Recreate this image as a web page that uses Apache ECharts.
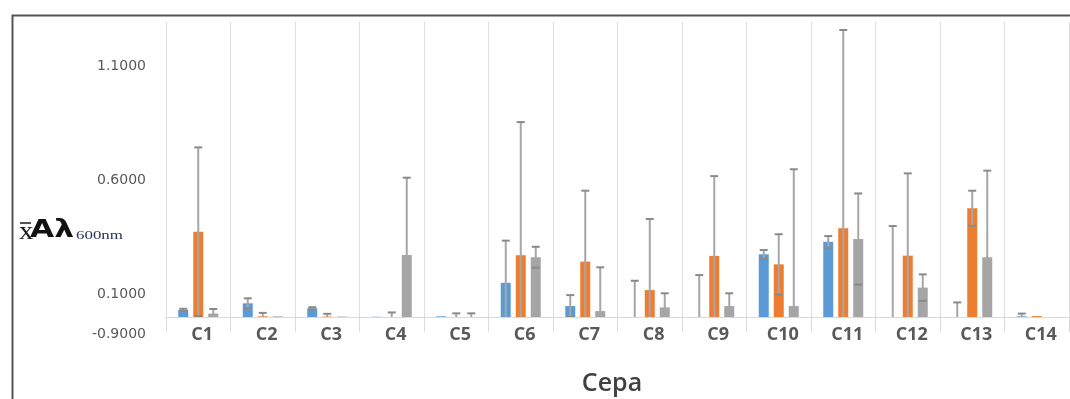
<!DOCTYPE html>
<html>
<head>
<meta charset="utf-8">
<script src="https://cdn.jsdelivr.net/npm/echarts@6/dist/echarts.min.js"></script>
<style>html,body{margin:0;padding:0;background:#fff}#c{width:1070px;height:399px}</style>
</head>
<body>
<div id="c"></div>
<script>
var categories = ['C1','C2','C3','C4','C5','C6','C7','C8','C9','C10','C11','C12','C13','C14'];
var blueValues   = [0.031, 0.060, 0.038, 0.001, 0.003, 0.150, 0.048, 0.000, 0.000, 0.275, 0.330, 0.000, 0.000, 0.003];
var blueErrors   = [0.005, 0.022, 0.005, 0.000, 0.000, 0.185, 0.048, 0.159, 0.184, 0.019, 0.025, 0.399, 0.064, 0.012];
var orangeValues = [0.374, 0.003, 0.002, 0.000, 0.000, 0.271, 0.243, 0.118, 0.268, 0.231, 0.389, 0.269, 0.477, 0.004];
var orangeErrors = [0.370, 0.015, 0.012, 0.020, 0.016, 0.584, 0.311, 0.312, 0.350, 0.132, 0.870, 0.361, 0.077, 0.000];
var grayValues   = [0.015, 0.003, 0.002, 0.272, 0.000, 0.262, 0.026, 0.042, 0.048, 0.048, 0.342, 0.129, 0.262, 0.000];
var grayErrors   = [0.020, 0.000, 0.000, 0.339, 0.016, 0.046, 0.192, 0.062, 0.056, 0.600, 0.200, 0.058, 0.380, 0.000];
var yTickValues = [0, 0.1, 0.6, 1.1];
var yTickLabels = ['-0.9000', '0.1000', '0.6000', '1.1000'];

var chart = echarts.init(document.getElementById('c'), null, {renderer: 'canvas'});

function errSeries(vals, errs, offset) {
  return {
    type: 'custom',
    z: 5,
    clip: true,
    silent: true,
    data: vals.map(function (v, i) { return [i, v, errs[i]]; }),
    encode: {x: 0, y: 1},
    renderItem: function (params, api) {
      var i = api.value(0), v = api.value(1), e = api.value(2);
      if (!e) return null;
      var t = api.coord([i, v + e]);
      var b = api.coord([i, v - e]);
      var x = t[0] + offset;
      var cw = 4;
      return {
        type: 'group',
        children: [
          {type: 'line', shape: {x1: x, y1: t[1], x2: x, y2: b[1]}, style: {stroke: '#a6a6a6', lineWidth: 2}},
          {type: 'line', shape: {x1: x - cw, y1: t[1], x2: x + cw, y2: t[1]}, style: {stroke: '#8a8a8a', lineWidth: 2}},
          {type: 'line', shape: {x1: x - cw, y1: b[1], x2: x + cw, y2: b[1]}, style: {stroke: '#8a8a8a', lineWidth: 2}}
        ]
      };
    }
  };
}

var option = {
  animation: false,
  backgroundColor: '#ffffff',
  grid: {left: 166, right: 1, top: 22, bottom: 82, containLabel: false, outerBoundsMode: 'none'},
  xAxis: {
    type: 'category',
    data: categories,
    boundaryGap: true,
    name: 'Cepa',
    nameLocation: 'middle',
    nameGap: 54,
    nameTextStyle: {fontFamily: 'Open Sans', fontWeight: 600, fontSize: 25, color: '#404040', padding: [0, 11, 0, 0]},
    axisLine: {show: true, lineStyle: {color: '#d9d9d9', width: 1}},
    axisTick: {show: true, length: 15, interval: 0, lineStyle: {color: '#d9d9d9'}},
    splitLine: {show: true, interval: 0, lineStyle: {color: '#dedede', width: 1}},
    axisLabel: {margin: 9, interval: 0, fontFamily: 'Open Sans', fontWeight: 700, fontSize: 18, color: '#595959', padding: [0, 0, 0, 8]}
  },
  yAxis: {
    type: 'value',
    min: 0,
    max: 1.294,
    interval: 0.1,
    axisLine: {show: false},
    axisTick: {show: false},
    splitLine: {show: false},
    axisLabel: {
      margin: 20,
      fontFamily: 'DejaVu Sans',
      fontSize: 14,
      color: '#595959',
      showMaxLabel: false,
      formatter: function (val) {
        for (var k = 0; k < yTickValues.length; k++) {
          if (Math.abs(val - yTickValues[k]) < 1e-6) {
            return k === 0 ? '{low|' + yTickLabels[k] + '}' : yTickLabels[k];
          }
        }
        return '';
      },
      rich: {
        low: {fontFamily: 'DejaVu Sans', fontSize: 14, color: '#595959', padding: [34, 0, 0, 0]}
      }
    }
  },
  series: [
    {type: 'bar', name: 'A', data: blueValues, barWidth: 10, barGap: '50%', itemStyle: {color: '#5b9bd5'}, z: 2},
    {type: 'bar', name: 'B', data: orangeValues, barWidth: 10, barGap: '50%', itemStyle: {color: '#ed7d31'}, z: 2},
    {type: 'bar', name: 'C', data: grayValues, barWidth: 10, barGap: '50%', itemStyle: {color: '#a5a5a5'}, z: 2},
    errSeries(blueValues, blueErrors, -15),
    errSeries(orangeValues, orangeErrors, 0),
    errSeries(grayValues, grayErrors, 15)
  ],
  graphic: [
    {type: 'rect', left: 10, top: 13, shape: {width: 1100, height: 420}, style: {fill: 'none', stroke: '#555555', lineWidth: 2}, silent: true},
    {type: 'text', x: 19, y: 220, scaleX: 1.15, style: {text: 'x', font: '25px "Liberation Serif"', fill: '#1a1a1a', textVerticalAlign: 'top'}},
    {type: 'line', shape: {x1: 20, y1: 223, x2: 31, y2: 223}, style: {stroke: '#1a1a1a', lineWidth: 1.5}},
    {type: 'text', x: 30, y: 219, scaleX: 1.3, style: {text: 'A\u03bb', font: 'bold 24px "DejaVu Sans"', fill: '#111111', textVerticalAlign: 'top'}},
    {type: 'text', x: 76, y: 229, scaleX: 1.3, style: {text: '600nm', font: '13px "Liberation Serif"', fill: '#2a3550', textVerticalAlign: 'top'}}
  ]
};
chart.setOption(option);
</script>
</body>
</html>
